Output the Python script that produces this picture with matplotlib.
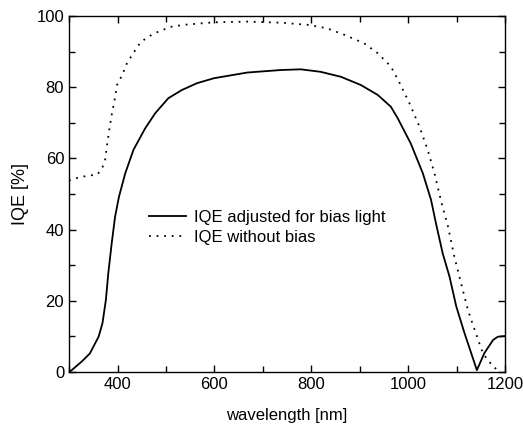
import matplotlib.pyplot as plt
from matplotlib.ticker import MultipleLocator

plt.rcParams['font.family'] = ['Liberation Sans', 'DejaVu Sans']

# IQE adjusted for bias light (solid)
wl_adj = [300, 302, 326, 343, 361, 369, 376, 381, 388, 395, 403, 416, 433, 457,
          478, 505, 533, 564, 599, 668, 737, 778, 819, 861, 902, 937, 964, 978,
          1005, 1030, 1047, 1057, 1071, 1085, 1099, 1116, 1131, 1141.5, 1157,
          1175, 1185, 1200]
iqe_adj = [0, 0.1, 2.9, 5.2, 9.9, 13.7, 20.2, 27.7, 36.1, 43.6, 49.2, 55.8, 62.4, 68.4,
           72.7, 76.9, 79.2, 81.1, 82.5, 84.1, 84.8, 85, 84.3, 82.9, 80.6, 77.8, 74.5, 71.3,
           64.2, 55.8, 48.3, 41.8, 33.3, 26.8, 18.4, 10.9, 4.8, 0.5, 5.3,
           9, 9.9, 10.1]

# IQE without bias (dotted)
wl_raw = [300, 305, 330, 359, 369, 374.5, 378, 383, 388, 394, 399, 407, 414, 420,
          448, 474, 509, 537, 599, 668, 737, 792, 833, 868, 909, 937, 964, 981,
          1004, 1023, 1040, 1054, 1068, 1082, 1095, 1109, 1123, 1137, 1154, 1175, 1190]
iqe_raw = [53.7, 54.1, 54.9, 55.5, 57.5, 59.6, 63.3, 68, 72.2, 76.4, 80.6, 82.7, 84.8, 86.9,
           92.7, 95, 96.9, 97.5, 98.2, 98.4, 98.1, 97.5, 96.5, 94.7, 92.3, 89.5, 85.8, 81.5,
           75, 68.9, 62.4, 55.8, 47.8, 40.8, 32.4, 24.9, 17.4, 11.8, 5.2, 1.5, 0]

fig = plt.figure(figsize=(5.23, 4.30), dpi=100)
ax = fig.add_axes([0.132, 0.135, 0.834, 0.828])

ax.plot(wl_adj, iqe_adj, color='black', linewidth=1.3, label='IQE adjusted for bias light')
ax.plot(wl_raw, iqe_raw, color='black', linewidth=1.3, linestyle=(0, (1, 3.2)),
        label='IQE without bias')

ax.set_xlim(300, 1200)
ax.set_ylim(0, 100)
ax.xaxis.set_major_locator(MultipleLocator(200))
ax.xaxis.set_minor_locator(MultipleLocator(100))
ax.yaxis.set_major_locator(MultipleLocator(20))
ax.yaxis.set_minor_locator(MultipleLocator(10))
ax.tick_params(which='both', direction='in', top=True, right=True, labelsize=12)
ax.tick_params(which='major', length=5, width=1)
ax.tick_params(which='minor', length=4, width=1)
for s in ax.spines.values():
    s.set_linewidth(1)

ax.set_xlabel('wavelength [nm]', fontsize=12, labelpad=12)
ax.set_ylabel('IQE [%]', fontsize=13, labelpad=5)

ax.legend(loc='upper left', bbox_to_anchor=(0.15, 0.498), frameon=False, fontsize=12,
          handlelength=2.2, handletextpad=0.5, labelspacing=0.3)

fig.savefig('out.png', dpi=100)
